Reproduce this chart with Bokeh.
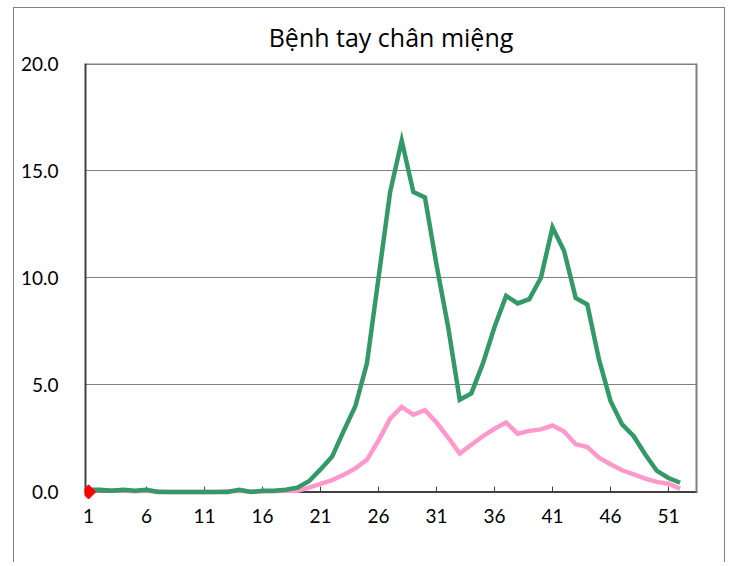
import numpy as np
from bokeh.plotting import figure
from bokeh.models import FixedTicker, PrintfTickFormatter, Range1d, Span
from bokeh.embed import file_html
from bokeh.resources import INLINE

weeks = list(range(1, 53))
green_vals = [0.1, 0.1, 0.05, 0.1, 0.05, 0.1, 0.0, 0.0, 0.0, 0.0,
              0.0, 0.0, 0.0, 0.1, 0.0, 0.05, 0.05, 0.1, 0.2, 0.5,
              1.05, 1.65, 2.85, 4.0, 6.0, 10.0, 14.0, 16.4, 14.0, 13.75,
              10.6, 7.7, 4.3, 4.6, 6.0, 7.7, 9.15, 8.8, 9.0, 10.0,
              12.35, 11.25, 9.05, 8.75, 6.2, 4.25, 3.15, 2.6, 1.75, 0.98,
              0.65, 0.43]
pink_vals = [0.05, 0.08, 0.08, 0.05, 0.03, 0.05, 0.02, 0.0, 0.0, 0.0,
             0.0, 0.0, 0.03, 0.05, 0.02, 0.02, 0.03, 0.05, 0.05, 0.2,
             0.38, 0.55, 0.8, 1.1, 1.5, 2.4, 3.42, 3.97, 3.6, 3.82,
             3.24, 2.54, 1.79, 2.2, 2.6, 2.95, 3.24, 2.72, 2.85, 2.92,
             3.1, 2.82, 2.23, 2.1, 1.6, 1.29, 1.01, 0.82, 0.62, 0.47,
             0.38, 0.15]
red_weeks = [1]
red_vals = [0.0]
x_ticks = [1, 6, 11, 16, 21, 26, 31, 36, 41, 46, 51]
y_ticks = [0, 5, 10, 15, 20]

x_lo, x_hi = 0.65, 53.5
y_lo, y_hi = -0.4, 20
tick_len = 0.25

p = figure(width=727, height=564, output_backend="svg", toolbar_location=None,
           title="Bệnh tay chân miệng",
           x_range=Range1d(x_lo, x_hi), y_range=Range1d(y_lo, y_hi),
           min_border_left=84, min_border_right=30, min_border_top=63, min_border_bottom=64)
p.background_fill_color = "white"
p.border_fill_color = None
p.styles = {
    "background-color": "white",
    "box-shadow": ("inset 0 -2px 0 0 white, "
                   "inset 13px 0 0 0 white, inset 0 7px 0 0 white, inset -2px 0 0 0 white, "
                   "inset 14px 0 0 0 #808080, inset 0 8px 0 0 #808080, inset -3px 0 0 0 #808080"),
}
p.outline_line_color = None

p.title.align = "center"
p.title.text_font = "Open Sans"
p.title.text_font_size = "25px"
p.title.text_font_style = "normal"
p.title.text_color = "black"
p.title.standoff = 20

p.xgrid.grid_line_color = None
p.ygrid.grid_line_color = "#808080"
p.ygrid.grid_line_width = 1

p.xaxis.ticker = FixedTicker(ticks=x_ticks)
p.yaxis.ticker = FixedTicker(ticks=y_ticks)
p.yaxis.formatter = PrintfTickFormatter(format="%.1f")
for ax in (p.xaxis, p.yaxis):
    ax.major_label_text_font = "Lato"
    ax.major_label_text_font_size = "19px"
    ax.major_label_text_color = "black"
    ax.minor_tick_line_color = None
    ax.major_tick_in = 0
    ax.major_tick_out = 0
    ax.axis_line_color = None
p.xaxis.major_label_standoff = 8
p.yaxis.major_label_standoff = 26

# plot-area borders (top / right) and axis lines
top_border = Span(location=y_hi, dimension="width", line_color="#808080", line_width=3, level="underlay")
p.add_layout(top_border)
p.segment(x0=[x_hi], y0=[0], x1=[x_hi], y1=[y_hi], line_color="#808080", line_width=4)
p.segment(x0=[x_lo], y0=[0], x1=[x_lo], y1=[y_hi], line_color="#404040", line_width=4)
x_axis_line = Span(location=0, dimension="width", line_color="#404040", line_width=2, level="underlay")
p.add_layout(x_axis_line)
p.segment(x0=x_ticks, y0=[0] * len(x_ticks), x1=x_ticks, y1=[tick_len] * len(x_ticks),
          line_color="#404040", line_width=1)

p.line(weeks, pink_vals, line_color="#FF99CC", line_width=4.5, line_join="miter")
p.line(weeks, green_vals, line_color="#339966", line_width=4.5, line_join="miter")
p.scatter(red_weeks, red_vals, marker="square", angle=np.pi / 4, size=10,
          fill_color="#FF0000", line_color="#FF0000")

open("out.html", "w").write(file_html(p, INLINE))
